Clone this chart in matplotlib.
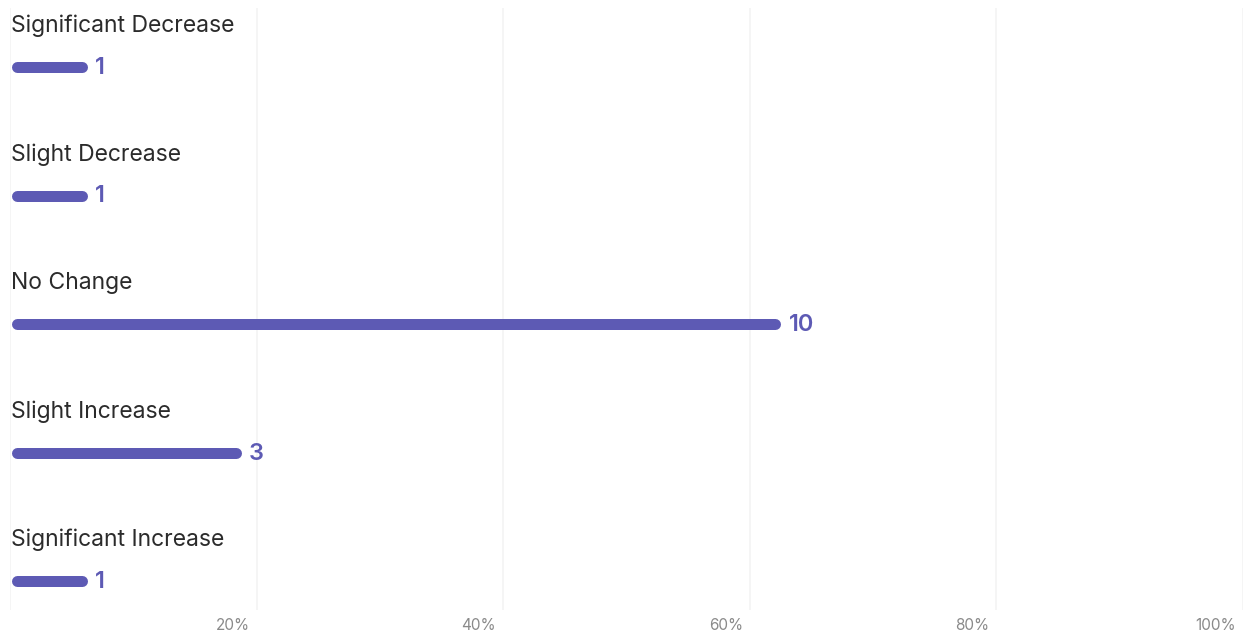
import matplotlib
matplotlib.use("Agg")
import matplotlib.pyplot as plt

categories = ["Significant Decrease", "Slight Decrease", "No Change",
              "Slight Increase", "Significant Increase"]
counts = [1, 1, 10, 3, 1]
tick_values = [20, 40, 60, 80, 100]
tick_labels = ["20%", "40%", "60%", "80%", "100%"]

BAR_COLOR = "#5d5ab4"
W, H = 1245, 634
fig = plt.figure(figsize=(W / 100, H / 100), dpi=100)
left_px, right_px, top_px, bot_px = 10, 1243, 8, 610
ax = fig.add_axes([left_px / W, (H - bot_px) / H,
                   (right_px - left_px) / W, (bot_px - top_px) / H])
ax.set_xlim(0, 100)
# bar centers at 67 + 128.5*i px
y0, step = 67, 128.5
ax.set_ylim((bot_px - y0) / step, (top_px - y0) / step)
for s in ax.spines.values():
    s.set_visible(False)
ax.set_xticks([])
ax.set_yticks([])

for g in [0] + tick_values:
    ax.axvline(g, color="#f4f4f4", lw=1.2, zorder=0)

total = sum(counts)
px_per_unit = (right_px - left_px) / 100.0
lw_px = 11
r = (lw_px / 2) / px_per_unit
for i, (cat, c) in enumerate(zip(categories, counts)):
    pct = c / total * 100
    ax.plot([0.1 + r, pct - r], [i, i], color=BAR_COLOR, lw=lw_px * 0.72,
            solid_capstyle="round", zorder=2)
    ax.annotate(str(c), xy=(pct, i), xytext=(8, -1), textcoords="offset pixels",
                ha="left", va="center", color=BAR_COLOR, fontsize=17,
                fontweight="semibold", family="Inter")
    ax.annotate(cat, xy=(0, i), xytext=(1, 41), textcoords="offset pixels",
                ha="left", va="center", color="#2b2b2b", fontsize=16.5,
                family="Inter")

for v, lab in zip(tick_values, tick_labels):
    ax.annotate(lab, xy=(v, 0), xycoords=("data", "axes fraction"),
                xytext=(-7, -15), textcoords="offset pixels",
                ha="right", va="center", color="#8a8a8a", fontsize=11,
                family="Inter")

fig.savefig("out.png", dpi=100)
